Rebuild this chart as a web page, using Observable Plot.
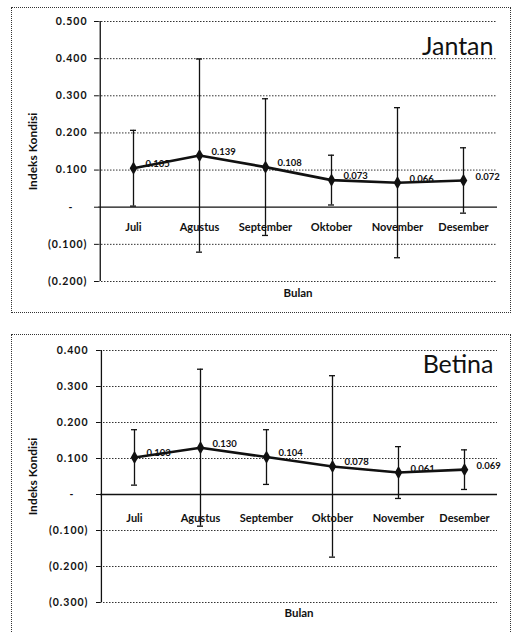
<!DOCTYPE html>
<html>
<head>
<meta charset="utf-8">
<script src="https://cdn.jsdelivr.net/npm/d3@7"></script>
<script src="https://cdn.jsdelivr.net/npm/@observablehq/plot@0.6"></script>
<style>
  html, body { margin: 0; padding: 0; background: #fff; }
  #wrap { position: relative; width: 514px; height: 632px; overflow: hidden; background: #fff; }
  .panel { position: absolute; left: 11px; width: 498px; border: 1px dotted #333; background: #fff; }
  .panel svg { display: block; }
  .panel svg g[aria-label="y-axis tick label"] text { letter-spacing: 1px; }
</style>
</head>
<body>
<div id="wrap">
  <div class="panel" id="p1" style="top:7px;height:304px;"></div>
  <div class="panel" id="p2" style="top:334px;height:300px;"></div>
</div>
<script>
const months = ["Juli", "Agustus", "September", "Oktober", "November", "Desember"];

const jantanMean = [0.105, 0.139, 0.108, 0.073, 0.066, 0.072];
const jantanErr  = [0.102, 0.260, 0.184, 0.067, 0.202, 0.088];
const jantanTicks = [-0.2, -0.1, 0, 0.1, 0.2, 0.3, 0.4, 0.5];

const betinaMean = [0.103, 0.130, 0.104, 0.078, 0.061, 0.069];
const betinaErr  = [0.077, 0.218, 0.076, 0.252, 0.072, 0.055];
const betinaTicks = [-0.3, -0.2, -0.1, 0, 0.1, 0.2, 0.3, 0.4];

const xLabel = "Bulan";
const yLabel = "Indeks Kondisi";

const FONT = "Lato, 'Open Sans', sans-serif";

function fmt(d) {
  if (Math.abs(d) < 1e-9) return "-\u00a0\u00a0\u00a0\u00a0";
  if (d < 0) return "(" + Math.abs(d).toFixed(3) + ")";
  return d.toFixed(3);
}

function panel(o) {
  const W = 498, MR = 13;
  const data = months.map((m, i) => ({month: m, mean: o.mean[i], err: o.err[i]}));
  const domain = [d3.min(o.ticks), d3.max(o.ticks)];
  const halfBand = (W - o.ml - MR) / months.length / 2;
  return Plot.plot({
    width: W,
    height: o.height,
    marginLeft: o.ml, marginRight: MR, marginTop: o.mt, marginBottom: o.mb,
    style: {fontFamily: FONT, background: "white", color: "#111"},
    x: {type: "band", domain: months, padding: 0, axis: null},
    y: {domain, axis: null},
    marks: [
      Plot.ruleY(o.ticks.filter(t => Math.abs(t) > 1e-9), {stroke: "#333", strokeWidth: 1, strokeDasharray: "1.5,1.5"}),
      Plot.ruleY([0], {stroke: "#111", strokeWidth: 1.3}),
      Plot.ruleX([months[0]], {x: d => d, y1: () => domain[0], y2: () => domain[1], dx: -halfBand, stroke: "#111", strokeWidth: 1.3}),
      Plot.axisY({ticks: o.ticks, tickFormat: fmt, tickSize: 4, tickPadding: o.tp, fontSize: 10.5, fontWeight: "bold", stroke: "#111", label: null}),
      Plot.ruleX(data, {x: "month", y1: d => d.mean - d.err, y2: d => d.mean + d.err, stroke: "#111", strokeWidth: 1.3}),
      Plot.tickY(data, {x: "month", y: d => d.mean - d.err, insetLeft: 30, insetRight: 30, stroke: "#111", strokeWidth: 1.3}),
      Plot.tickY(data, {x: "month", y: d => d.mean + d.err, insetLeft: 30, insetRight: 30, stroke: "#111", strokeWidth: 1.3}),
      Plot.line(data, {x: "month", y: "mean", stroke: "#111", strokeWidth: 2.6}),
      Plot.dot(data, {x: "month", y: "mean", symbol: "diamond", fill: "#111", r: 4}),
      Plot.text(data, {x: "month", y: "mean", text: d => d.mean.toFixed(3), dx: 12, dy: -4, textAnchor: "start", fontSize: 9.5, fontWeight: "bold", fill: "#111"}),
      Plot.text(months, {x: d => d, y: () => 0, text: d => d, dy: o.labelDy, fontSize: 11, fontWeight: "bold", fill: "#111"}),
      Plot.text([o.title], {frameAnchor: "top-right", dx: -4, dy: o.titleDy, lineAnchor: "top", textAnchor: "end", text: d => d, fontSize: 25, fontWeight: "normal", fill: "#111"}),
      Plot.text([xLabel], {frameAnchor: "bottom", dy: o.bulanDy, lineAnchor: "middle", textAnchor: "middle", text: d => d, fontSize: 11.5, fontWeight: "bold", fill: "#111"}),
      Plot.text([yLabel], {frameAnchor: "left", dx: o.yLabDx, rotate: -90, textAnchor: "middle", lineAnchor: "middle", text: d => d, fontSize: 12, fontWeight: "bold", fill: "#111"})
    ]
  });
}

document.getElementById("p1").append(panel({
  title: "Jantan", mean: jantanMean, err: jantanErr, ticks: jantanTicks,
  height: 304, ml: 86, mt: 13, mb: 31, tp: 7, labelDy: 20, titleDy: 16, bulanDy: 12, yLabDx: -65
}));
document.getElementById("p2").append(panel({
  title: "Betina", mean: betinaMean, err: betinaErr, ticks: betinaTicks,
  height: 300, ml: 88, mt: 15, mb: 33, tp: 8, labelDy: 24, titleDy: 5, bulanDy: 11, yLabDx: -67
}));
</script>
</body>
</html>
